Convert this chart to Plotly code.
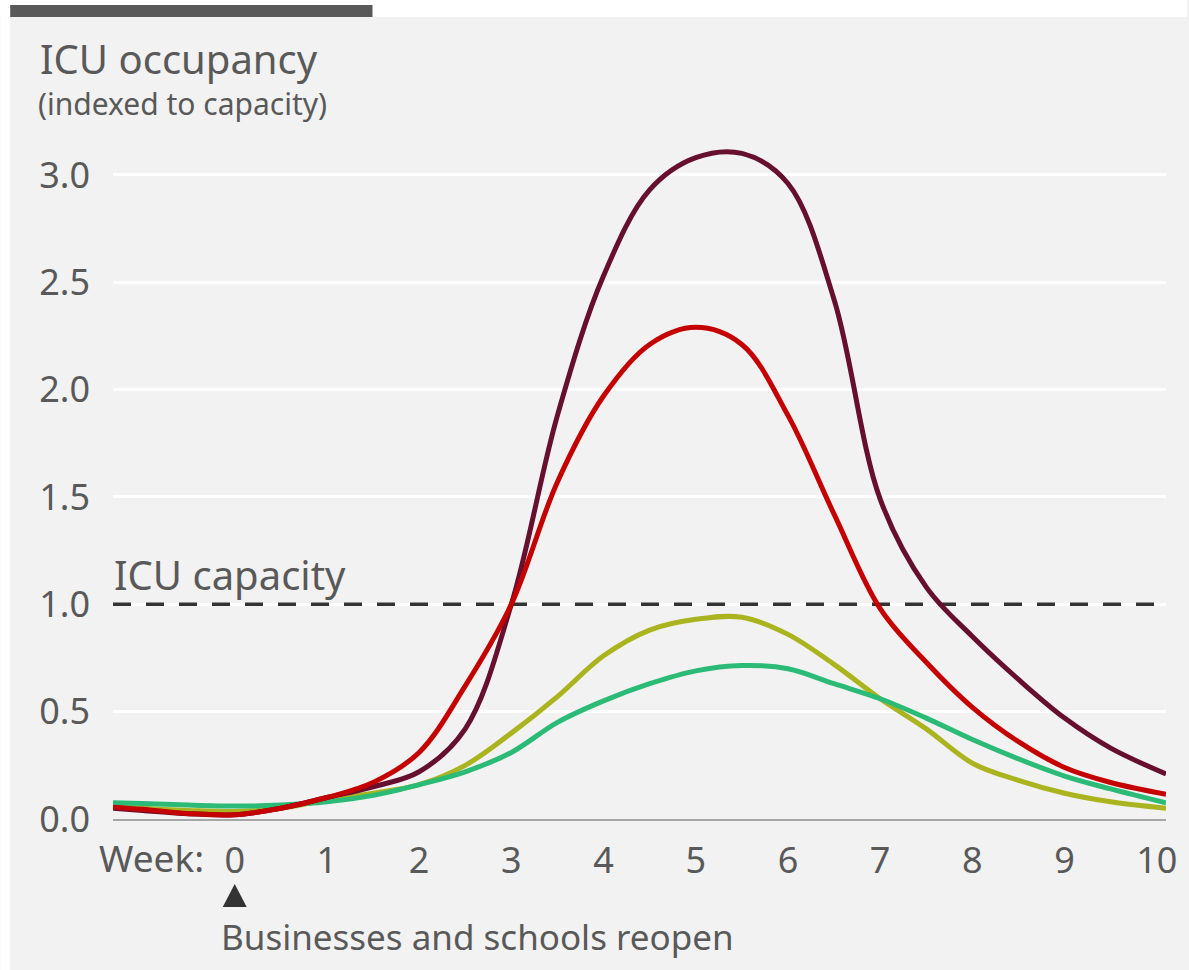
import plotly.graph_objects as go

# ---- data ----
weeks = [-1.32, -1.0, -0.5, 0.0, 0.5, 1.0, 1.5, 2.0, 2.5, 3.0, 3.5, 4.0, 4.5,
         5.0, 5.5, 6.0, 6.5, 7.0, 7.5, 8.0, 8.5, 9.0, 9.5, 10.1]

maroon_vals = [0.05, 0.04, 0.025, 0.02, 0.05, 0.10, 0.15, 0.22, 0.42, 1.00, 1.88, 2.53, 2.93,
               3.08, 3.10, 2.96, 2.42, 1.49, 1.08, 0.85, 0.65, 0.47, 0.33, 0.21]
red_vals = [0.055, 0.045, 0.025, 0.02, 0.05, 0.10, 0.17, 0.31, 0.62, 1.00, 1.57, 1.97, 2.21,
            2.29, 2.21, 1.88, 1.42, 0.98, 0.73, 0.52, 0.36, 0.24, 0.17, 0.115]
olive_vals = [0.06, 0.05, 0.04, 0.035, 0.05, 0.09, 0.12, 0.16, 0.25, 0.40, 0.57, 0.76, 0.88,
              0.93, 0.94, 0.86, 0.72, 0.56, 0.42, 0.26, 0.18, 0.12, 0.08, 0.05]
green_vals = [0.076, 0.072, 0.065, 0.06, 0.065, 0.08, 0.11, 0.16, 0.22, 0.31, 0.45, 0.55, 0.63,
              0.69, 0.715, 0.70, 0.63, 0.56, 0.47, 0.37, 0.28, 0.20, 0.14, 0.075]

x_tickvals = [0, 1, 2, 3, 4, 5, 6, 7, 8, 9, 10]
x_ticktext = ["0", "1", "2", "3", "4", "5", "6", "7", "8", "9", "10"]
y_tickvals = [0, 0.5, 1.0, 1.5, 2.0, 2.5, 3.0]
y_ticktext = ["0.0", "0.5", "1.0", "1.5", "2.0", "2.5", "3.0"]
capacity = 1.0
reopen_week = 0

# ---- layout geometry ----
W, H = 1189, 970
L, R, T, B = 113, 21, 132, 151
PW, PH = W - L - R, H - T - B

def xp(px):
    return (px - L) / PW

def yp(py):
    return (H - B - py) / PH

TEXT = "#595959"
FONT = "Noto Sans"

fig = go.Figure()

# capacity line (drawn first: above grid, below the curves)
fig.add_trace(go.Scatter(
    x=[weeks[0], weeks[-1]], y=[capacity, capacity], mode="lines",
    line=dict(color="#333333", width=3.5, dash="18px,15px"),
    hoverinfo="skip", showlegend=False,
))

series = [
    (olive_vals, "#A9B41F"),
    (green_vals, "#2BBB77"),
    (maroon_vals, "#660F2F"),
    (red_vals, "#C40000"),
]
for vals, col in series:
    fig.add_trace(go.Scatter(
        x=weeks, y=vals, mode="lines",
        line=dict(color=col, width=5, shape="spline", smoothing=1.0),
        hoverinfo="skip", showlegend=False,
    ))

# triangle marker under week 0 (pixel geometry)
tx = L + (reopen_week - weeks[0]) / (weeks[-1] - weeks[0]) * PW
tri_path = "M {:.5f},{:.5f} L {:.5f},{:.5f} L {:.5f},{:.5f} Z".format(
    xp(tx - 12), yp(907), xp(tx + 12), yp(907), xp(tx), yp(884))

shapes = [
    # white strips around grey panel
    dict(type="rect", xref="paper", yref="paper", x0=xp(0), x1=xp(W), y0=yp(17), y1=yp(0),
         fillcolor="white", line_width=0, layer="below"),
    dict(type="rect", xref="paper", yref="paper", x0=xp(0), x1=xp(10), y0=yp(H), y1=yp(0),
         fillcolor="white", line_width=0, layer="below"),
    # dark top bar
    dict(type="rect", xref="paper", yref="paper", x0=xp(10), x1=xp(373), y0=yp(17), y1=yp(5),
         fillcolor="#595959", line_width=0, layer="above"),
    # triangle
    dict(type="path", xref="paper", yref="paper", path=tri_path,
         fillcolor="#333333", line_width=0, layer="above"),
]

annotations = [
    dict(text="ICU occupancy", xref="paper", yref="paper", x=xp(38), y=yp(59),
         xanchor="left", yanchor="middle", showarrow=False,
         font=dict(family=FONT, size=40, color=TEXT)),
    dict(text="(indexed to capacity)", xref="paper", yref="paper", x=xp(36), y=yp(104),
         xanchor="left", yanchor="middle", showarrow=False,
         font=dict(family=FONT, size=30, color=TEXT)),
    dict(text="ICU capacity", xref="paper", yref="paper", x=xp(112), y=yp(574),
         xanchor="left", yanchor="middle", showarrow=False,
         font=dict(family=FONT, size=40, color=TEXT)),
    dict(text="Week:", xref="paper", yref="paper", x=xp(206), y=yp(857),
         xanchor="right", yanchor="middle", showarrow=False,
         font=dict(family=FONT, size=37, color=TEXT)),
    dict(text="Businesses and schools reopen", xref="paper", yref="paper", x=xp(219), y=yp(936),
         xanchor="left", yanchor="middle", showarrow=False,
         font=dict(family=FONT, size=35, color=TEXT)),
]

fig.update_layout(
    width=W, height=H,
    margin=dict(l=L, r=R, t=T, b=B, pad=0),
    paper_bgcolor="#F2F2F2", plot_bgcolor="#F2F2F2",
    shapes=shapes, annotations=annotations,
    showlegend=False,
    xaxis=dict(range=[weeks[0], weeks[-1]], tickvals=x_tickvals, ticktext=x_ticktext,
               showgrid=False, zeroline=False, showline=True, linecolor="#A6A6A6", linewidth=2,
               ticks="", ticklabelstandoff=9,
               tickfont=dict(family=FONT, size=36, color=TEXT), fixedrange=True),
    yaxis=dict(range=[0, PH / 214.7], tickvals=y_tickvals, ticktext=y_ticktext,
               showgrid=True, gridcolor="white", gridwidth=3, zeroline=False, showline=False,
               ticks="", ticklabelstandoff=22,
               tickfont=dict(family=FONT, size=36, color=TEXT), fixedrange=True),
)

fig.write_html("out.html", config={"displayModeBar": False},
               post_script="document.body.style.margin='0px';document.body.style.padding='0px';")
